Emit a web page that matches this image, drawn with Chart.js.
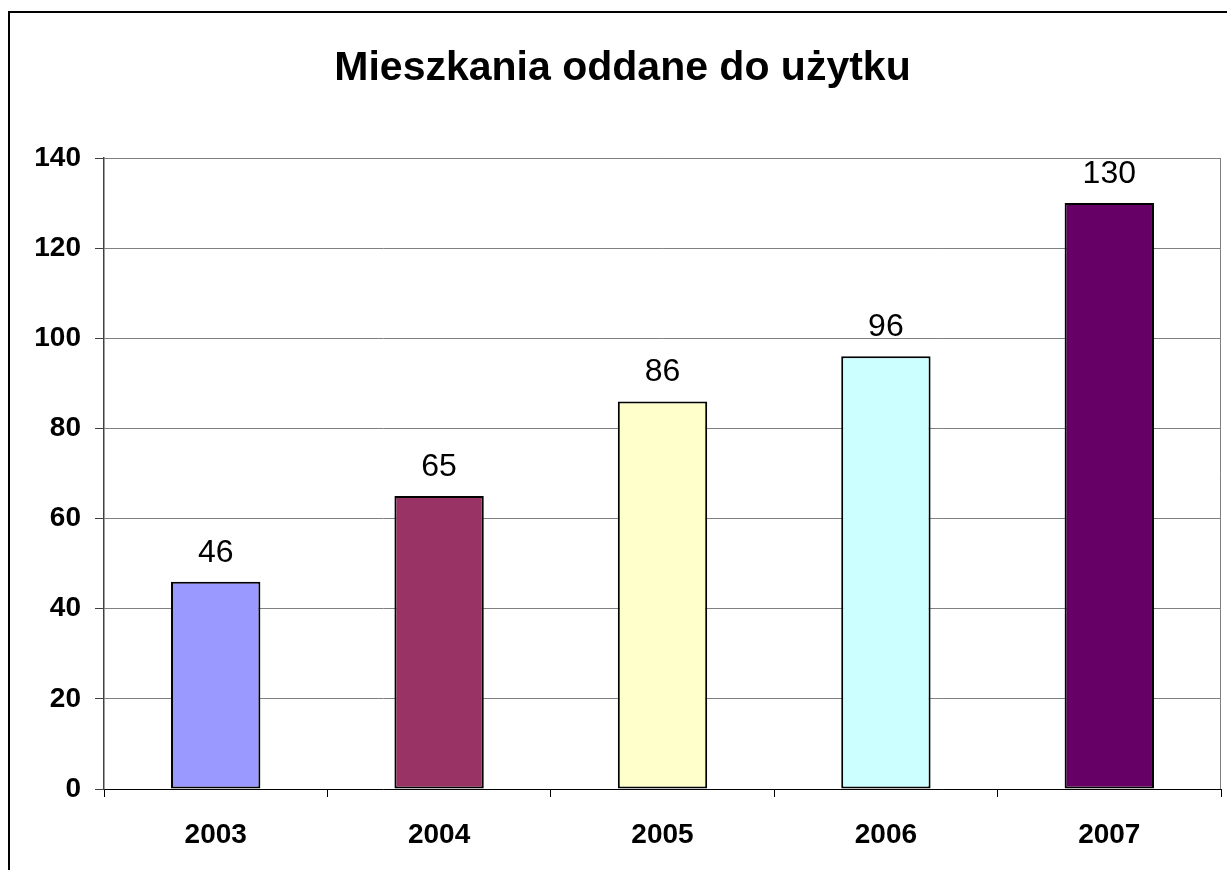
<!DOCTYPE html>
<html>
<head>
<meta charset="utf-8">
<script src="https://cdn.jsdelivr.net/npm/chart.js@4.4.0/dist/chart.umd.min.js"></script>
<style>
  html, body { margin: 0; padding: 0; background: #fff; }
  #wrap { position: relative; width: 1227px; height: 870px; overflow: hidden; }
</style>
</head>
<body>
<div id="wrap"><canvas id="c" width="1227" height="870"></canvas></div>
<script>
const chartTitle = "Mieszkania oddane do użytku";
const categories = ["2003", "2004", "2005", "2006", "2007"];
const values = [46, 65, 86, 96, 130];
const barColors = ["#9999FF", "#993366", "#FFFFCC", "#CCFFFF", "#660066"];
const yTicks = [0, 20, 40, 60, 80, 100, 120, 140];

const FONT = "'Liberation Sans', Arial, sans-serif";

const decor = {
  id: 'decor',
  beforeDraw(chart) {
    const ctx = chart.ctx;
    ctx.save();
    ctx.fillStyle = '#fff';
    ctx.fillRect(0, 0, chart.width, chart.height);
    ctx.strokeStyle = '#000';
    ctx.lineWidth = 2;
    ctx.strokeRect(9, 12, chart.width + 20, chart.height + 20);
    ctx.fillStyle = '#000';
    ctx.font = 'bold 41px ' + FONT;
    ctx.textAlign = 'center';
    ctx.textBaseline = 'alphabetic';
    ctx.fillText(chartTitle, 622.5, 80);
    ctx.restore();
  },
  afterDatasetsDraw(chart) {
    const ctx = chart.ctx;
    const a = chart.chartArea;
    ctx.save();
    ctx.strokeStyle = '#808080';
    ctx.lineWidth = 1;
    ctx.beginPath();
    ctx.moveTo(a.left, a.top + 0.5);
    ctx.lineTo(a.right - 0.5, a.top + 0.5);
    ctx.lineTo(a.right - 0.5, a.bottom);
    ctx.stroke();
    ctx.fillStyle = '#000';
    ctx.font = '32px ' + FONT;
    ctx.textAlign = 'center';
    ctx.textBaseline = 'alphabetic';
    const meta = chart.getDatasetMeta(0);
    meta.data.forEach((bar, i) => {
      ctx.fillText(String(values[i]), bar.x, bar.y - 20);
    });
    ctx.restore();
  }
};

new Chart(document.getElementById('c'), {
  type: 'bar',
  data: {
    labels: categories,
    datasets: [{
      data: values,
      backgroundColor: barColors,
      borderColor: '#000',
      borderWidth: 2,
      borderSkipped: false,
      barPercentage: 0.40,
      categoryPercentage: 1.0
    }]
  },
  options: {
    responsive: false,
    animation: false,
    layout: { padding: { left: 0, top: 158, right: 6, bottom: 0 } },
    plugins: { legend: { display: false }, title: { display: false }, tooltip: { enabled: false } },
    scales: {
      x: {
        offset: true,
        grid: { display: true, drawOnChartArea: false, drawTicks: true, tickLength: 8, tickColor: '#000', offset: true },
        border: { display: true, color: '#000', width: 1 },
        ticks: { color: '#000', font: { family: FONT, size: 28, weight: 'bold' }, padding: 21, maxRotation: 0 },
        afterFit(scale) { scale.height = 81; }
      },
      y: {
        min: 0, max: 140,
        afterBuildTicks(scale) { scale.ticks = yTicks.map(v => ({ value: v })); },
        grid: { color: '#808080', lineWidth: 1, drawTicks: true, tickLength: 9, tickColor: '#404040' },
        border: { display: true, color: '#404040', width: 1.5 },
        ticks: { color: '#000', font: { family: FONT, size: 28, weight: 'bold' }, padding: 14 },
        afterFit(scale) { scale.width = 104; }
      }
    }
  },
  plugins: [decor]
});
</script>
</body>
</html>
